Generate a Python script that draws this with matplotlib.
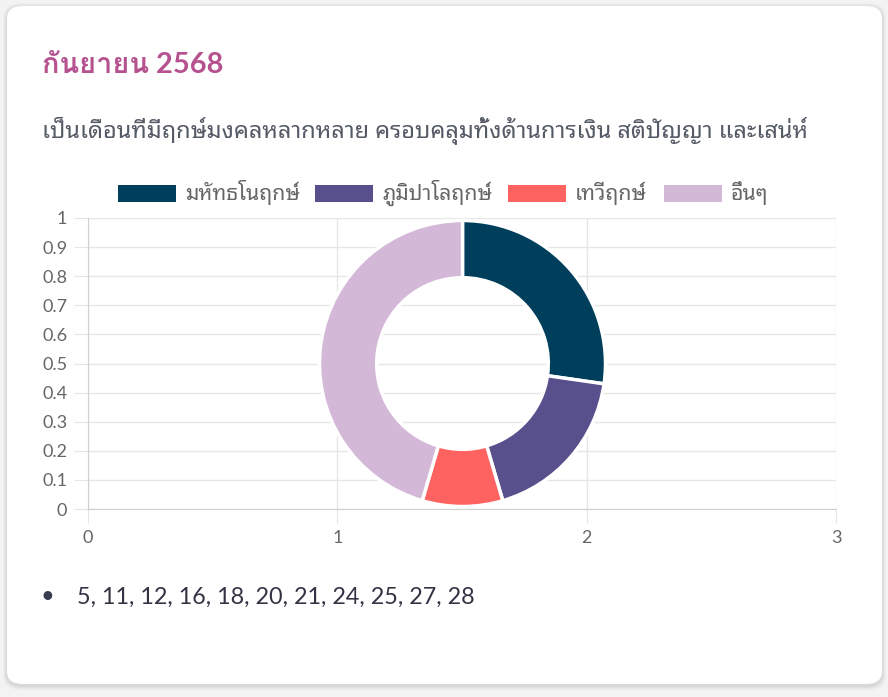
import matplotlib
matplotlib.use("Agg")
import matplotlib.pyplot as plt
from matplotlib.patches import FancyBboxPatch, Rectangle

title = 'กันยายน 2568'
subtitle = 'เป็นเดือนที่มีฤกษ์มงคลหลากหลาย ครอบคลุมทั้งด้านการเงิน สติปัญญา และเสน่ห์'
labels = ['มหัทธโนฤกษ์', 'ภูมิปาโลฤกษ์', 'เทวีฤกษ์', 'อื่นๆ']
values = [3, 2, 1, 5]
colors = ['#003f5c', '#58508d', '#ff6361', '#d4b8d8']
lucky_days = [5, 11, 12, 16, 18, 20, 21, 24, 25, 27, 28]
x_ticks = [0, 1, 2, 3]
y_ticks = [0, 0.1, 0.2, 0.3, 0.4, 0.5, 0.6, 0.7, 0.8, 0.9, 1]

FONT = ['Lato', 'Noto Sans Thai Looped', 'DejaVu Sans']
plt.rcParams['font.family'] = FONT

W, H = 888, 697
fig = plt.figure(figsize=(W / 100, H / 100), dpi=100)
fig.patch.set_facecolor('#f3f3f3')


def fx(px):
    return px / W


def fy(py):
    return 1 - py / H


# card with soft shadow (kept under the axes)
for i, a in enumerate([0.02, 0.025, 0.03, 0.035]):
    d = 4 - i
    fig.patches.append(FancyBboxPatch((fx(7 - d), fy(686 + d)), fx(875 + 2 * d), (679 + 2 * d) / H,
                                      boxstyle='round,pad=0,rounding_size=0.02',
                                      transform=fig.transFigure, facecolor='black',
                                      edgecolor='none', alpha=a, zorder=-10))
fig.patches.append(FancyBboxPatch((fx(7), fy(684)), fx(875), 678 / H,
                                  boxstyle='round,pad=0,rounding_size=0.018',
                                  transform=fig.transFigure, facecolor='white',
                                  edgecolor='none', zorder=-9))

fig.text(fx(42), fy(65), title, fontsize=20.8, fontweight='bold', color='#b5528f',
         ha='left', va='center', family=['Lato', 'Loma', 'IBM Plex Sans Thai Looped'])
fig.text(fx(42), fy(131), subtitle, fontsize=17, color='#555b66', ha='left', va='center')

# axes behind the doughnut
ax = fig.add_axes([fx(88), fy(509), fx(836 - 88), (509 - 218) / H])
ax.set_zorder(2)
ax.patch.set_alpha(0)
ax.set_xlim(0, 3)
ax.set_ylim(0, 1)
ax.set_xticks(x_ticks)
ax.set_yticks(y_ticks)
ax.set_yticklabels([f'{v:g}' for v in y_ticks])
ax.grid(True, color='#e6e6e6', linewidth=1)
ax.set_axisbelow(True)
for s in ['top', 'right']:
    ax.spines[s].set_visible(False)
for s in ['left', 'bottom']:
    ax.spines[s].set_color('#d0d0d0')
ax.tick_params(length=10, color='#e6e6e6', labelsize=13, labelcolor='#666666', pad=5)

# doughnut on its own square axes
R = 143
cx, cy = 462.5, 363.5
pax = fig.add_axes([fx(cx - R), fy(cy + R), fx(2 * R), 2 * R / H])
pax.set_zorder(3)
pax.pie(values, colors=colors, startangle=90, counterclock=False, radius=1,
        wedgeprops=dict(width=0.4, edgecolor='white', linewidth=2.5))
pax.set_xlim(-1, 1)
pax.set_ylim(-1, 1)
pax.axis('off')

# legend drawn as boxes and labels
lx = [118, 315, 508, 664]
for x0, lab, c in zip(lx, labels, colors):
    fig.patches.append(Rectangle((fx(x0), fy(202)), fx(58), 17 / H, transform=fig.transFigure,
                                 facecolor=c, edgecolor='none'))
    fig.text(fx(x0 + 67), fy(193), lab, fontsize=15.3, color='#666666', ha='left', va='center')

# bullet list of days
fig.text(fx(47), fy(596), '•', fontsize=17, color='#3b3b4f', ha='center', va='center')
fig.text(fx(77), fy(597), ', '.join(str(d) for d in lucky_days), fontsize=16.8,
         color='#333344', ha='left', va='center')

plt.savefig('out.png', dpi=100, facecolor=fig.get_facecolor())
